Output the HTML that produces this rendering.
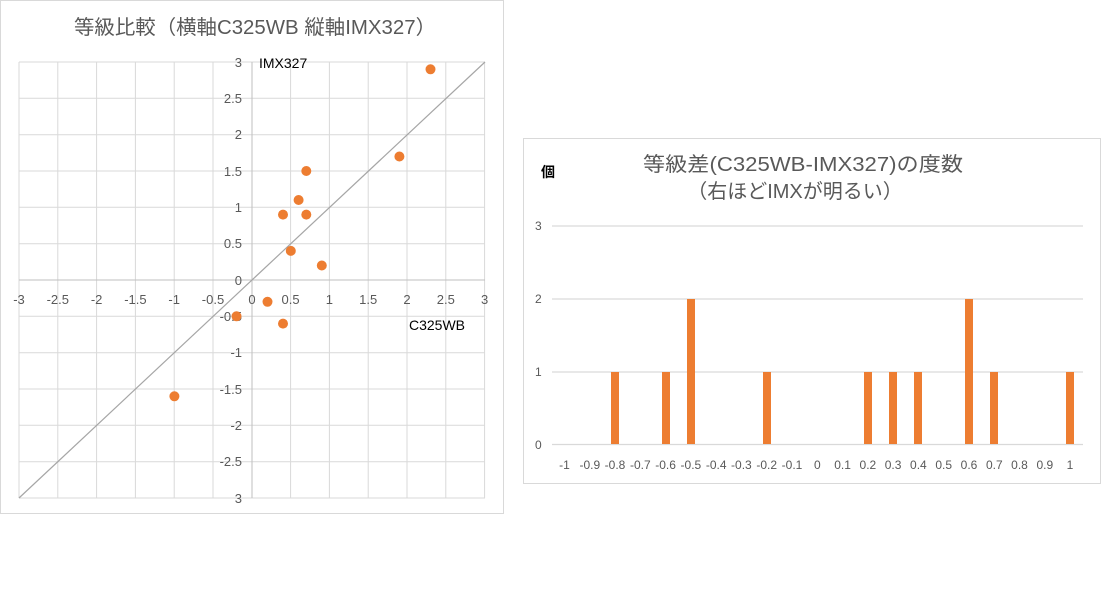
<!DOCTYPE html>
<html><head><meta charset="utf-8"><style>
body{margin:0;background:#fff;width:1116px;height:592px;overflow:hidden}
text{font-family:"Liberation Sans","Noto Sans CJK JP",sans-serif;fill:#595959}
</style></head><body>
<svg width="1116" height="592" xmlns="http://www.w3.org/2000/svg">
<rect x="0.5" y="0.5" width="503" height="513" fill="#fff" stroke="#d9d9d9"/>
<text x="255" y="34" font-size="20" text-anchor="middle" textLength="362" lengthAdjust="spacingAndGlyphs">等級比較（横軸C325WB 縦軸IMX327）</text>
<g stroke="#d9d9d9" stroke-width="1">
<line x1="19" y1="62" x2="19" y2="498"/><line x1="57.8" y1="62" x2="57.8" y2="498"/><line x1="96.6" y1="62" x2="96.6" y2="498"/><line x1="135.4" y1="62" x2="135.4" y2="498"/><line x1="174.2" y1="62" x2="174.2" y2="498"/><line x1="213" y1="62" x2="213" y2="498"/><line x1="290.6" y1="62" x2="290.6" y2="498"/><line x1="329.4" y1="62" x2="329.4" y2="498"/><line x1="368.2" y1="62" x2="368.2" y2="498"/><line x1="407" y1="62" x2="407" y2="498"/><line x1="445.8" y1="62" x2="445.8" y2="498"/><line x1="484.6" y1="62" x2="484.6" y2="498"/>
<line x1="19" y1="62" x2="485" y2="62"/><line x1="19" y1="98.3" x2="485" y2="98.3"/><line x1="19" y1="134.7" x2="485" y2="134.7"/><line x1="19" y1="171" x2="485" y2="171"/><line x1="19" y1="207.3" x2="485" y2="207.3"/><line x1="19" y1="243.7" x2="485" y2="243.7"/><line x1="19" y1="316.3" x2="485" y2="316.3"/><line x1="19" y1="352.7" x2="485" y2="352.7"/><line x1="19" y1="389" x2="485" y2="389"/><line x1="19" y1="425.3" x2="485" y2="425.3"/><line x1="19" y1="461.7" x2="485" y2="461.7"/><line x1="19" y1="498" x2="485" y2="498"/>
</g>
<line x1="252" y1="62" x2="252" y2="498" stroke="#bfbfbf"/>
<line x1="19" y1="280" x2="485" y2="280" stroke="#bfbfbf"/>
<line x1="19" y1="498" x2="485" y2="62" stroke="#a6a6a6" stroke-width="1.2"/>
<g font-size="13" text-anchor="end">
<text x="242" y="67">3</text><text x="242" y="103">2.5</text><text x="242" y="139">2</text><text x="242" y="176">1.5</text><text x="242" y="212">1</text><text x="242" y="248">0.5</text><text x="242" y="285">0</text><text x="242" y="321">-0.5</text><text x="242" y="357">-1</text><text x="242" y="394">-1.5</text><text x="242" y="430">-2</text><text x="242" y="466">-2.5</text><text x="242" y="503">3</text>
</g>
<g font-size="13" text-anchor="middle">
<text x="19" y="304">-3</text><text x="57.8" y="304">-2.5</text><text x="96.6" y="304">-2</text><text x="135.4" y="304">-1.5</text><text x="174.2" y="304">-1</text><text x="213" y="304">-0.5</text><text x="252" y="304">0</text><text x="290.6" y="304">0.5</text><text x="329.4" y="304">1</text><text x="368.2" y="304">1.5</text><text x="407" y="304">2</text><text x="445.8" y="304">2.5</text><text x="484.6" y="304">3</text>
</g>
<text x="259" y="68" font-size="14" style="fill:#000">IMX327</text>
<text x="409" y="330" font-size="14" style="fill:#000">C325WB</text>
<g fill="#ed7d31">
<circle cx="174.4" cy="396.3" r="5"/><circle cx="267.5" cy="301.8" r="5"/><circle cx="236.5" cy="316.3" r="5"/><circle cx="283" cy="323.6" r="5"/><circle cx="290.8" cy="250.9" r="5"/><circle cx="321.8" cy="265.5" r="5"/><circle cx="283" cy="214.6" r="5"/><circle cx="306.3" cy="214.6" r="5"/><circle cx="298.6" cy="200" r="5"/><circle cx="306.3" cy="171" r="5"/><circle cx="399.4" cy="156.5" r="5"/><circle cx="430.5" cy="69.3" r="5"/>
</g>

<rect x="523.5" y="138.5" width="577" height="345" fill="#fff" stroke="#d9d9d9"/>
<text x="541" y="177" font-size="14" font-weight="bold" style="fill:#000">個</text>
<text x="803" y="171" font-size="20" text-anchor="middle" textLength="320" lengthAdjust="spacingAndGlyphs">等級差(C325WB-IMX327)の度数</text>
<text x="795" y="198" font-size="20" text-anchor="middle">（右ほどIMXが明るい）</text>
<g stroke="#d9d9d9" stroke-width="1.2">
<line x1="552" y1="226" x2="1083" y2="226"/><line x1="552" y1="299" x2="1083" y2="299"/><line x1="552" y1="372" x2="1083" y2="372"/><line x1="552" y1="444.5" x2="1083" y2="444.5"/>
</g>
<g font-size="12">
<text x="535" y="230">3</text><text x="535" y="303">2</text><text x="535" y="376">1</text><text x="535" y="449">0</text>
</g>
<g fill="#ed7d31">
<rect x="611" y="372" width="8" height="72"/><rect x="662" y="372" width="8" height="72"/><rect x="687" y="299" width="8" height="145"/><rect x="763" y="372" width="8" height="72"/><rect x="864" y="372" width="8" height="72"/><rect x="889" y="372" width="8" height="72"/><rect x="914" y="372" width="8" height="72"/><rect x="965" y="299" width="8" height="145"/><rect x="990" y="372" width="8" height="72"/><rect x="1066" y="372" width="8" height="72"/>
</g>
<g font-size="12" text-anchor="middle">
<text x="564.5" y="469">-1</text><text x="589.8" y="469">-0.9</text><text x="615" y="469">-0.8</text><text x="640.3" y="469">-0.7</text><text x="665.6" y="469">-0.6</text><text x="690.9" y="469">-0.5</text><text x="716.2" y="469">-0.4</text><text x="741.4" y="469">-0.3</text><text x="766.7" y="469">-0.2</text><text x="792" y="469">-0.1</text><text x="817.3" y="469">0</text><text x="842.6" y="469">0.1</text><text x="867.9" y="469">0.2</text><text x="893.1" y="469">0.3</text><text x="918.4" y="469">0.4</text><text x="943.7" y="469">0.5</text><text x="969" y="469">0.6</text><text x="994.3" y="469">0.7</text><text x="1019.5" y="469">0.8</text><text x="1044.8" y="469">0.9</text><text x="1070" y="469">1</text>
</g>
</svg>
</body></html>
